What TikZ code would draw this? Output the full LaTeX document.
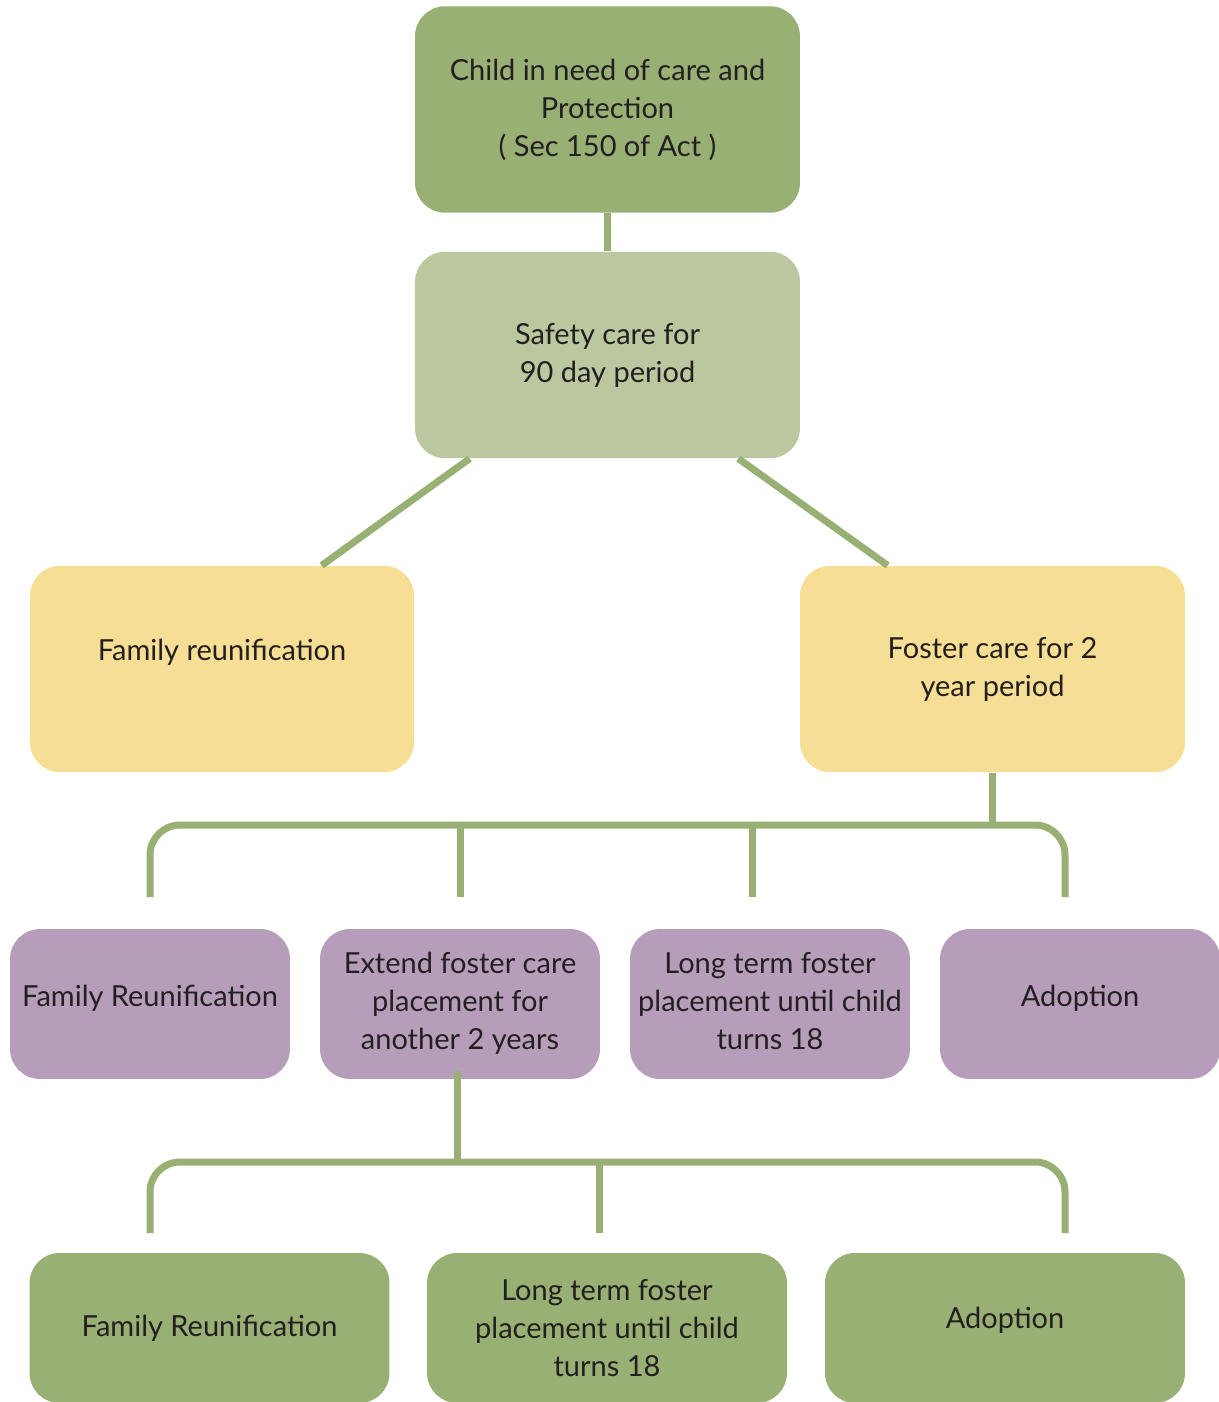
\documentclass[tikz,border=0pt]{standalone}
\usepackage{fontspec}
\setmainfont{Lato}
\usetikzlibrary{calc}
\definecolor{dgreen}{HTML}{99B074}
\definecolor{lgreen}{HTML}{BBC89F}
\definecolor{yel}{HTML}{F6DF94}
\definecolor{purp}{HTML}{B69EBB}
\definecolor{txt}{HTML}{231F20}
\newcommand{\lowered}[1]{\raisebox{-0.28cm}{\begin{tabular}{@{}c@{}}#1\end{tabular}}}
\tikzset{
  box/.style={rectangle, rounded corners=0.6cm, draw=none, align=center, text=txt,
    font=\fontsize{16.5}{21.6}\selectfont, inner sep=0pt},
  bigbox/.style={box, minimum width=7.7cm, minimum height=4.13cm},
  smallbox/.style={box, minimum width=5.6cm, minimum height=3cm},
  lowbox/.style={box, minimum width=7.2cm, minimum height=3cm},
  conn/.style={draw=dgreen, line width=0.14cm},
}
\begin{document}
\begin{tikzpicture}[x=0.02cm, y=-0.02cm]
\useasboundingbox (0,0) rectangle (1218,1402);
% level 1-3
\node[bigbox, fill=dgreen] (child) at (607.5,109.5) {Child in need of care and\\Protection\\( Sec 150 of Act )};
\node[bigbox, fill=lgreen] (safety) at (607.5,355) {Safety care for\\90 day period};
\node[bigbox, fill=yel, minimum width=7.68cm] (famr) at (222,669) {Family reunification\\\mbox{}};
\node[bigbox, fill=yel] (foster) at (992.5,669) {Foster care for 2\\year period};
% level 4
\node[smallbox, fill=purp] (fr1) at (150,1004) {\raisebox{0.32cm}{Family Reunification}};
\node[smallbox, fill=purp] (ext) at (460,1004) {\lowered{Extend foster care\\placement for\\another 2 years}};
\node[smallbox, fill=purp] (lt1) at (770,1004) {\lowered{Long term foster\\placement until child\\turns 18}};
\node[smallbox, fill=purp] (ad1) at (1080,1004) {\raisebox{0.32cm}{Adoption}};
% level 5
\node[lowbox, fill=dgreen] (fr2) at (209.5,1328) {Family Reunification};
\node[lowbox, fill=dgreen] (lt2) at (607,1328) {Long term foster\\placement until child\\turns 18};
\node[lowbox, fill=dgreen] (ad2) at (1005,1328) {\raisebox{0.4cm}{Adoption}};
% connectors top
\draw[conn] (child.south) -- (safety.north);
\draw[conn] ([xshift=1.1cm]safety.south west) -- ([xshift=5.84cm]famr.north west);
\draw[conn] ([xshift=-1.24cm]safety.south east) -- ([xshift=1.76cm]foster.north west);
% bus 1
\coordinate (bar1) at (607,825);
\coordinate (a1) at (150,897);
\coordinate (a2) at (460,897);
\coordinate (a3) at (752,897);
\coordinate (a4) at (1065,897);
\draw[conn] (foster.south) -- (foster.south |- bar1);
\draw[conn, rounded corners=0.6cm] (a1) -- (a1 |- bar1) -- (a4 |- bar1) -- (a4);
\draw[conn] (a2) -- (a2 |- bar1);
\draw[conn] (a3) -- (a3 |- bar1);
% bus 2
\coordinate (bar2) at (607,1162);
\coordinate (b1) at (150,1233);
\coordinate (b2) at (599,1233);
\coordinate (b3) at (1065,1233);
\coordinate (e0) at (457,1071);
\draw[conn] (e0) -- (e0 |- bar2);
\draw[conn, rounded corners=0.6cm] (b1) -- (b1 |- bar2) -- (b3 |- bar2) -- (b3);
\draw[conn] (b2) -- (b2 |- bar2);
\end{tikzpicture}
\end{document}
